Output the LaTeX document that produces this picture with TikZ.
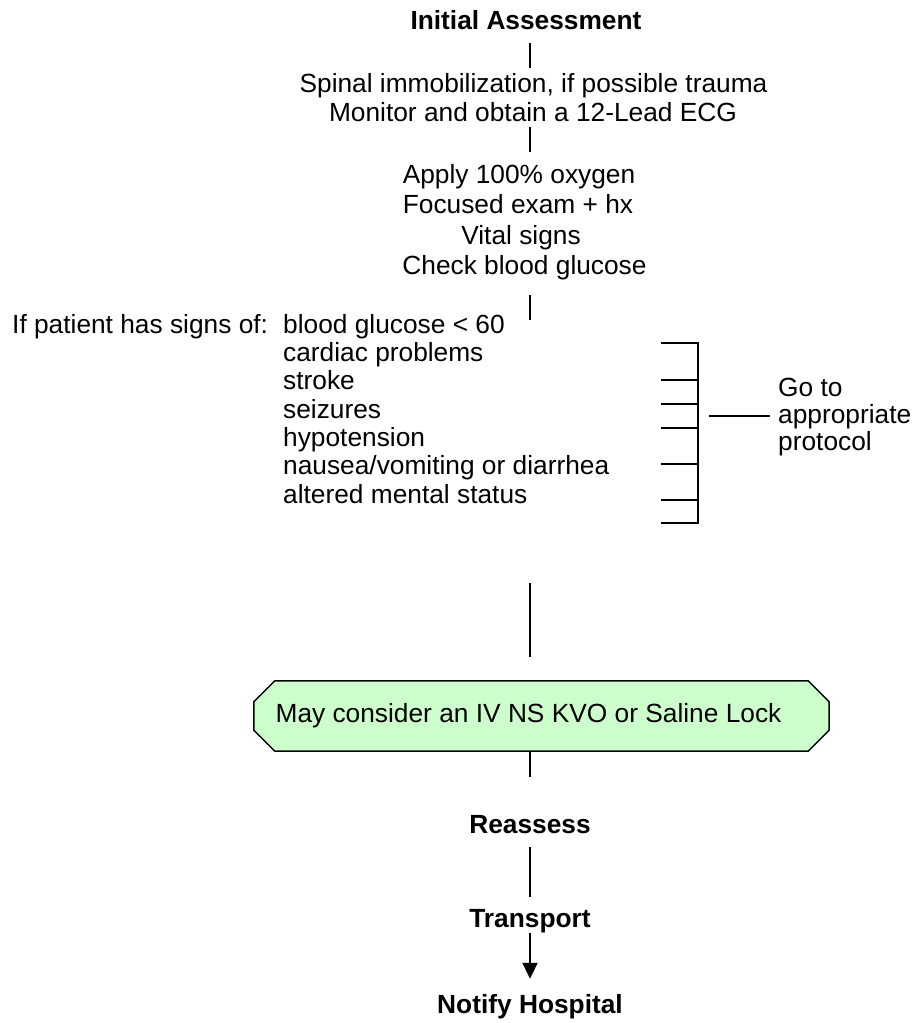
\documentclass[tikz,border=0pt]{standalone}
\usepackage{fontspec}
\setmainfont{Liberation Sans}
\usetikzlibrary{calc,arrows.meta,backgrounds}
\definecolor{ivfill}{HTML}{CCFFCC}
\begin{document}
\begin{tikzpicture}[x=1pt,y=-1pt,
  txt/.style={inner sep=0pt, font=\fontsize{26.3pt}{30pt}\selectfont},
  oneline/.style={txt, anchor=base, text height=19.2pt, text depth=5.5pt},
  head/.style={oneline, font=\fontsize{26.3pt}{30pt}\selectfont\bfseries},
  link/.style={line width=2pt},
  hexbox/.style={draw, line width=1.5pt, fill=ivfill, line join=miter},
  ]
\useasboundingbox (0,0) rectangle (915,1023);

% main column
\coordinate (spine) at (530,0);
\node[head]    (title)   at (526,29)    {Initial Assessment};
\node[oneline] (spinal)  at (533.5,92)  {Spinal immobilization, if possible trauma};
\node[oneline] (monitor) at (533,121)   {Monitor and obtain a 12-Lead ECG};
\node[oneline] (oxygen)  at (519,183)   {Apply 100\% oxygen};
\node[oneline] (exam)    at (518,213)   {Focused exam + hx};
\node[oneline] (vitals)  at (521,244)   {Vital signs};
\node[oneline] (glucose) at (524.5,274) {Check blood glucose};

% signs list
\node[txt, anchor=base west] (signs) at (12,333) {If patient has signs of:};
\node[txt, anchor=north west, align=left, font=\fontsize{26.3pt}{28.33pt}\selectfont]
  (list) at (283,313.8)
  {blood glucose < 60\\cardiac problems\\stroke\\seizures\\hypotension\\nausea/vomiting or diarrhea\\altered mental status};
\node[txt, anchor=north west, align=left, font=\fontsize{26.3pt}{27pt}\selectfont]
  (goto) at (778,378) {Go to\\appropriate\\protocol};

% IV box
\node[txt, minimum width=575pt, minimum height=70pt] (iv) at (541.5,716)
  {May consider an IV NS KVO or Saline Lock\hspace*{26pt}};
\begin{scope}[on background layer]
  \draw[hexbox] ($(iv.north west)+(21,0)$) -- ($(iv.north east)+(-21,0)$)
    -- ($(iv.north east)+(0,21)$) -- ($(iv.south east)+(0,-21)$)
    -- ($(iv.south east)+(-21,0)$) -- ($(iv.south west)+(21,0)$)
    -- ($(iv.south west)+(0,-21)$) -- ($(iv.north west)+(0,21)$) -- cycle;
\end{scope}

% final steps
\node[head] (reassess)  at (530,833)  {Reassess};
\node[head] (transport) at (530,927)  {Transport};
\node[head] (notify)    at (530,1013) {Notify Hospital};

% connectors
\coordinate (sigtop) at (530,320);
\coordinate (gap) at (530,583);
\draw[link, shorten <=8.5pt, shorten >=4.8pt] (spine |- title.south) -- (spine |- spinal.north);
\draw[link, shorten <=0.5pt, shorten >=11.8pt] (spine |- monitor.south) -- (spine |- oxygen.north);
\draw[link, shorten <=15.5pt] (spine |- glucose.south) -- (sigtop);
\draw[link, shorten >=24pt] (gap) -- (spine |- iv.north);
\draw[link, shorten >=36.8pt] (spine |- iv.south) -- (spine |- reassess.north);
\draw[link, shorten <=8.5pt, shorten >=10.8pt] (spine |- reassess.south) -- (spine |- transport.north);
\draw[link, -{Triangle[length=16pt,width=15pt]}, shorten >=14.8pt] (spine |- transport.south) -- (spine |- notify.north);

% bracket gathering the signs
\coordinate (bt) at (698,343);
\coordinate (bb) at (698,523);
\draw[link] (661,343) -- (bt) -- (bb) -- (661,523);
\foreach \y in {380,404,428,464,500}
  \draw[link] (661,\y) -- (698,\y);
\coordinate (stub) at (709,416);
\draw[link, shorten >=8pt] (stub) -- (stub -| goto.west);
\end{tikzpicture}
\end{document}
